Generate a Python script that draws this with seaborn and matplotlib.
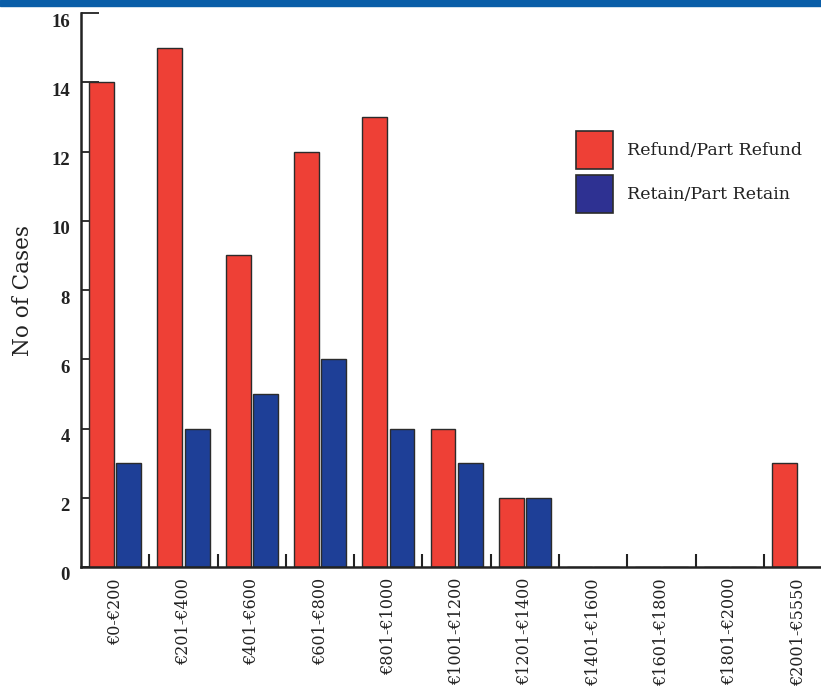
import pandas as pd
import matplotlib
matplotlib.use("Agg")
import matplotlib.pyplot as plt
import matplotlib.transforms as mtransforms
import seaborn as sns
from matplotlib.patches import Patch, Rectangle

# data
categories = ["€0-€200", "€201-€400", "€401-€600", "€601-€800", "€801-€1000",
              "€1001-€1200", "€1201-€1400", "€1401-€1600", "€1601-€1800",
              "€1801-€2000", "€2001-€5550"]
refund = [14, 15, 9, 12, 13, 4, 2, 0, 0, 0, 3]
retain = [3, 4, 5, 6, 4, 3, 2, 0, 0, 0, 0]
series_names = ["Refund/Part Refund", "Retain/Part Retain"]
y_ticks = [0, 2, 4, 6, 8, 10, 12, 14, 16]

red = "#EE4036"
blue_bar = "#1E3F97"
blue_legend = "#2E3192"

df = pd.DataFrame({
    "band": categories * 2,
    "cases": refund + retain,
    "kind": [series_names[0]] * len(categories) + [series_names[1]] * len(categories),
})

sns.set_style("white")
plt.rcParams["font.family"] = ["DejaVu Serif"]

fig = plt.figure(figsize=(8.21, 6.86), dpi=100)
ax = fig.add_axes([0.0987, 1 - 567 / 686, 0.915, 554 / 686])
ax.set_axisbelow(True)

sns.barplot(data=df, x="band", y="cases", hue="kind", hue_order=series_names,
            palette=[red, blue_bar], width=0.8, gap=0.09, edgecolor="#2b2b2b",
            linewidth=1.0, saturation=1, legend=False, ax=ax)

ax.set_ylim(0, 16)
ax.set_xlim(-0.5, len(categories) - 0.5)
ax.set_yticks(y_ticks)
ax.set_yticklabels([str(t) for t in y_ticks], fontsize=13.5, fontweight="bold",
                   family="Liberation Serif", color="#222222")
ax.set_xticks(range(len(categories)))
ax.set_xticklabels(categories, rotation=90, fontsize=11.5, va="top", color="#222222")
ax.set_xticks([i + 0.5 for i in range(len(categories) - 1)], minor=True)

ax.tick_params(axis="y", left=True, direction="in", length=13, width=1.3, pad=8,
               color="#222222")
ax.tick_params(axis="x", which="major", bottom=True, length=0, pad=8)
ax.tick_params(axis="x", which="minor", bottom=True, direction="in", length=9.5,
               width=1.5, color="#222222")

# y labels in the reference sit a little below their ticks
shift = mtransforms.ScaledTranslation(0, -7 / 100, fig.dpi_scale_trans)
for lab in ax.get_yticklabels():
    lab.set_transform(lab.get_transform() + shift)

ax.set_xlabel("")
ax.set_ylabel("No of Cases", fontsize=15.5, color="#222222")
ax.yaxis.set_label_coords(-0.062, 0.5)

sns.despine(ax=ax, top=True, right=True)
for side in ("left", "bottom"):
    ax.spines[side].set_linewidth(1.8)
    ax.spines[side].set_color("#222222")

handles = [Patch(facecolor=red, edgecolor="#2b2b2b", linewidth=1.2),
           Patch(facecolor=blue_legend, edgecolor="#2b2b2b", linewidth=1.2)]
ax.legend(handles, series_names, loc="upper left", bbox_to_anchor=(0.65, 0.80),
          frameon=False, fontsize=12.5, handlelength=2.1, handleheight=3.0,
          labelspacing=0.35, handletextpad=0.8, borderaxespad=0, labelcolor="#222222")

# blue header strip at the top edge
fig.patches.append(Rectangle((0, 1 - 6 / 686), 1, 6 / 686, transform=fig.transFigure,
                             color="#0A5EA8", zorder=0))

fig.savefig("out.png", dpi=100)
